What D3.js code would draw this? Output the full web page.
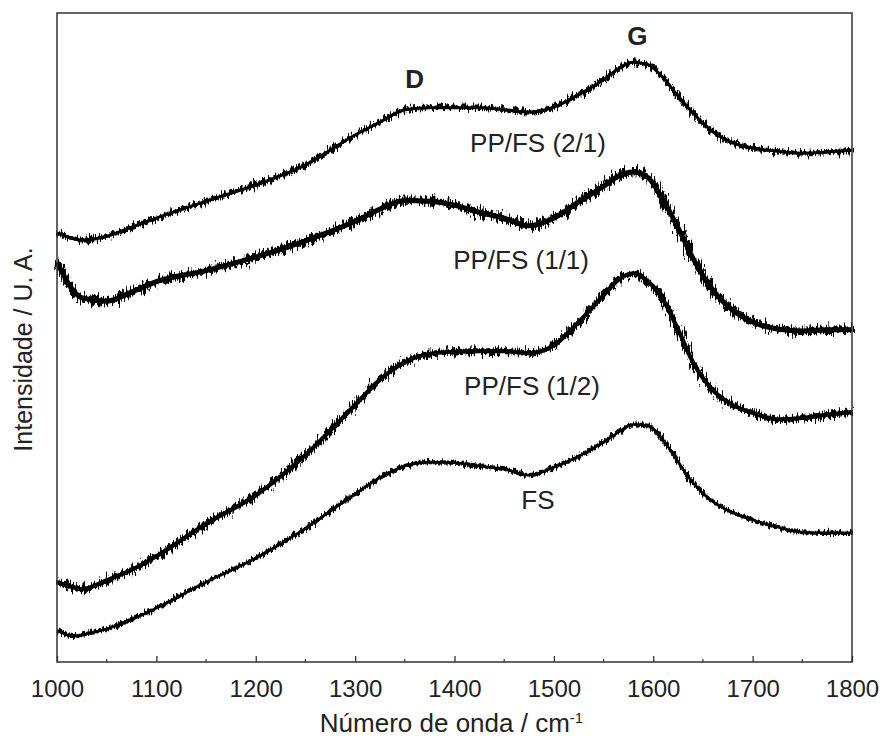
<!DOCTYPE html>
<html>
<head>
<meta charset="utf-8">
<script src="https://d3js.org/d3.v7.min.js"></script>
<style>
  body { margin: 0; background: #fff; }
  text { font-family: "Liberation Sans", Arial, sans-serif; fill: #222; }
</style>
</head>
<body>
<div id="chart"></div>
<script>
'use strict';

// Raman shift (cm-1) shared by every spectrum
var wavenumbers = [1000, 1015, 1025, 1050, 1075, 1100, 1150, 1200, 1250, 1300, 1325, 1350, 1375, 1400, 1425, 1450,
	1475, 1500, 1525, 1550, 1565, 1580, 1595, 1610, 1625, 1640, 1660, 1680, 1700, 1725, 1750, 1775, 1800];

// intensities (arbitrary units, 0-100 of the plot height)
var ppfs21 = [66.1, 65.3, 65.0, 65.6, 67.0, 68.4, 71.0, 73.5, 76.6, 81.2, 83.2, 85.1, 85.4, 85.4, 85.4, 85.1,
	84.7, 85.5, 87.4, 89.7, 91.4, 92.4, 92.0, 90.0, 87.2, 84.6, 81.7, 80.0, 79.2, 78.7, 78.4, 78.6, 78.9];

var ppfs11 = [61.6, 57.5, 56.1, 55.6, 57.0, 58.6, 60.3, 62.4, 64.9, 67.9, 69.8, 71.1, 71.0, 70.4, 69.3, 68.4,
	67.2, 68.4, 70.9, 73.3, 74.9, 75.5, 74.6, 71.2, 66.9, 62.2, 57.3, 54.2, 52.4, 51.3, 51.0, 51.2, 51.2];

var ppfs12 = [12.3, 11.6, 11.2, 12.6, 14.2, 16.3, 21.3, 25.7, 31.9, 39.6, 43.5, 46.2, 47.5, 47.8, 47.9, 47.9,
	47.6, 48.8, 52.4, 56.5, 58.9, 59.9, 58.6, 55.8, 51.2, 46.2, 41.9, 39.6, 38.4, 37.4, 37.6, 38.1, 38.5];

var fs = [4.9, 4.0, 4.2, 5.1, 6.5, 8.3, 12.3, 16.0, 20.6, 25.9, 28.4, 30.2, 30.8, 30.7, 30.2, 29.7,
	28.8, 30.0, 31.7, 33.9, 35.4, 36.6, 36.4, 34.2, 30.8, 27.6, 24.7, 23.0, 21.9, 20.8, 20.0, 19.9, 19.9];

var seriesNames = ["PP/FS (2/1)", "PP/FS (1/1)", "PP/FS (1/2)", "FS"];
var seriesValues = [ppfs21, ppfs11, ppfs12, fs];

var xTicks = [1000, 1100, 1200, 1300, 1400, 1500, 1600, 1700, 1800];
var xMinorTicks = [1050, 1150, 1250, 1350, 1450, 1550, 1650, 1750];

// label positions are in data units
var seriesLabelX = [1484, 1467, 1478, 1484];
var seriesLabelY = [78.6, 60.6, 41.2, 23.5];
var bandNames = ["D", "G"];
var bandX = [1360, 1584];
var bandY = [88.4, 95.0];


var width = 884;
var height = 738;
var margin = { top: 13, right: 32, bottom: 76, left: 57 };
var innerW = width - margin.left - margin.right;
var innerH = height - margin.top - margin.bottom;

var svg = d3.select("#chart")
	.append("svg")
	.attr("width", width)
	.attr("height", height);

// noise texture for the spectra (purely visual)
var defs = svg.append("defs");
var noiseLevel = [12, 18, 15, 8];
var coreWidth = [3.0, 5.0, 4.2, 2.6];
noiseLevel.forEach(function (s, i) {
	var f = defs.append("filter")
		.attr("id", "noise" + i)
		.attr("x", "-5%").attr("y", "-30%")
		.attr("width", "110%").attr("height", "160%");
	f.append("feTurbulence")
		.attr("type", "fractalNoise")
		.attr("baseFrequency", "0.55 0.08")
		.attr("numOctaves", 3)
		.attr("seed", i + 3)
		.attr("result", "turb");
	f.append("feDisplacementMap")
		.attr("in", "SourceGraphic")
		.attr("in2", "turb")
		.attr("scale", s)
		.attr("xChannelSelector", "R")
		.attr("yChannelSelector", "G");
});

var g = svg.append("g")
	.attr("transform", "translate(" + margin.left + "," + margin.top + ")");

var x = d3.scaleLinear()
	.domain([1000, 1800])
	.range([0, innerW]);

var y = d3.scaleLinear()
	.domain([0, 100])
	.range([innerH, 0]);

var line = d3.line()
	.x(function (d) { return x(d[0]); })
	.y(function (d) { return y(d[1]); })
	.curve(d3.curveMonotoneX);

seriesValues.forEach(function (vals, i) {
	var pts = wavenumbers.map(function (w, j) { return [w, vals[j]]; });
	// spiky fringe
	g.append("path")
		.datum(pts)
		.attr("d", line)
		.attr("fill", "none")
		.attr("stroke", "#000")
		.attr("stroke-width", coreWidth[i] + 1.5)
		.attr("filter", "url(#noise" + i + ")");
	// solid core
	g.append("path")
		.datum(pts)
		.attr("d", line)
		.attr("fill", "none")
		.attr("stroke", "#000")
		.attr("stroke-width", coreWidth[i]);
});

// frame
g.append("rect")
	.attr("width", innerW)
	.attr("height", innerH)
	.attr("fill", "none")
	.attr("stroke", "#333")
	.attr("stroke-width", 1.5);

// bottom axis, ticks pointing inwards
var xAxis = d3.axisBottom(x)
	.tickValues(xTicks)
	.tickSize(-6)
	.tickPadding(18)
	.tickFormat(d3.format("d"));

var axisG = g.append("g")
	.attr("transform", "translate(0," + innerH + ")")
	.call(xAxis);
axisG.select(".domain").remove();
axisG.selectAll("line").attr("stroke", "#333").attr("stroke-width", 1.3);
axisG.selectAll("text")
	.style("font-size", "24px")
	.attr("fill", "#222");

axisG.selectAll(".minor")
	.data(xMinorTicks)
	.enter()
	.append("line")
	.attr("class", "minor")
	.attr("x1", function (d) { return x(d); })
	.attr("x2", function (d) { return x(d); })
	.attr("y1", 0)
	.attr("y2", -3)
	.attr("stroke", "#333")
	.attr("stroke-width", 1.2);

// axis titles
var xTitle = g.append("text")
	.attr("x", innerW / 2 - 3)
	.attr("y", innerH + 70)
	.attr("text-anchor", "middle")
	.style("font-size", "26px");
xTitle.append("tspan").text("Número de onda / cm");
xTitle.append("tspan")
	.attr("dy", -9)
	.style("font-size", "15px")
	.text("-1");

g.append("text")
	.attr("transform", "translate(" + (-25) + "," + (innerH / 2 + 12) + ") rotate(-90)")
	.attr("text-anchor", "middle")
	.style("font-size", "25px")
	.text("Intensidade / U. A.");

// series labels
g.selectAll(".slabel")
	.data(seriesNames)
	.enter()
	.append("text")
	.attr("class", "slabel")
	.attr("x", function (d, i) { return x(seriesLabelX[i]); })
	.attr("y", function (d, i) { return y(seriesLabelY[i]); })
	.attr("text-anchor", "middle")
	.style("font-size", "26px")
	.text(function (d) { return d; });

// band labels
g.selectAll(".blabel")
	.data(bandNames)
	.enter()
	.append("text")
	.attr("class", "blabel")
	.attr("x", function (d, i) { return x(bandX[i]); })
	.attr("y", function (d, i) { return y(bandY[i]); })
	.attr("text-anchor", "middle")
	.style("font-size", "26px")
	.style("font-weight", "bold")
	.attr("fill", "#111")
	.text(function (d) { return d; });
</script>
</body>
</html>
